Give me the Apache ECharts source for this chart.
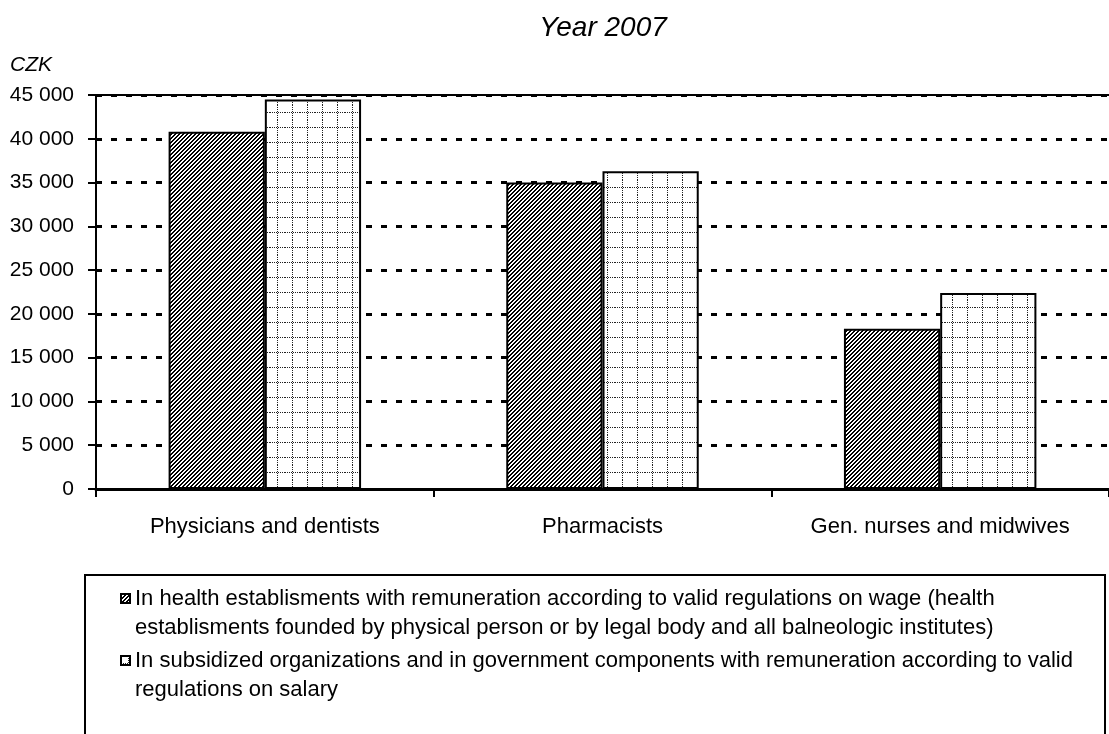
<!DOCTYPE html>
<html>
<head>
<meta charset="utf-8">
<script src="https://cdn.jsdelivr.net/npm/echarts@6/dist/echarts.min.js"></script>
<style>
html,body{margin:0;padding:0;background:#fff;}
#chart{width:1109px;height:734px;}
</style>
</head>
<body>
<div id="chart"></div>
<script>
// ---- data ----
const categories = ['Physicians and dentists', 'Pharmacists', 'Gen. nurses and midwives'];
const seriesNames = [
  'In health establisments with remuneration according to valid regulations on wage (health\nestablisments founded by physical person or by legal body and all balneologic institutes)',
  'In subsidized organizations and in government components with remuneration according to valid\nregulations on salary'
];
const wageValues = [40800, 35000, 18300];
const salaryValues = [44500, 36300, 22400];
const yTicks = [0, 5000, 10000, 15000, 20000, 25000, 30000, 35000, 40000, 45000];
const titleText = 'Year 2007';
const unitText = 'CZK';

// ---- patterns ----
function hatchPattern() {
  const c = document.createElement('canvas');
  c.width = 4; c.height = 4;
  const ctx = c.getContext('2d');
  const img = ctx.createImageData(4, 4);
  for (let y = 0; y < 4; y++) for (let x = 0; x < 4; x++) {
    const i = (y * 4 + x) * 4;
    const dark = ((x + y) % 4) < 2;
    const v = dark ? 0 : 255;
    img.data[i] = v; img.data[i+1] = v; img.data[i+2] = v; img.data[i+3] = 255;
  }
  ctx.putImageData(img, 0, 0);
  return c;
}
function gridPattern() {
  const n = 15;
  const c = document.createElement('canvas');
  c.width = n; c.height = n;
  const ctx = c.getContext('2d');
  ctx.fillStyle = '#fff';
  ctx.fillRect(0, 0, n, n);
  ctx.fillStyle = '#222';
  for (let i = 0; i < n; i += 2) {
    ctx.fillRect(i, 7, 1, 1);
    ctx.fillRect(7, i, 1, 1);
  }
  return c;
}

const FONT = 'Liberation Sans';
const chart = echarts.init(document.getElementById('chart'), null, {renderer: 'canvas'});
const fmt = v => String(v).replace(/\B(?=(\d{3})+(?!\d))/g, ' ');
// legend icon: 9x9 square sitting at the top of a tall box (aligns with first text line)
const legendIcon = 'path://M0,0L9,0L9,9L0,9Z M0,38L0,38';

chart.setOption({
  backgroundColor: '#fff',
  animation: false,
  title: [
    {text: titleText, left: 598, top: 9, textAlign: 'center',
     textStyle: {fontFamily: FONT, fontStyle: 'italic', fontWeight: 'normal', fontSize: 28, color: '#000'}},
    {text: unitText, left: 5, top: 50,
     textStyle: {fontFamily: FONT, fontStyle: 'italic', fontWeight: 'normal', fontSize: 21, color: '#000'}}
  ],
  grid: {left: 96, right: -13, top: 95, bottom: 245, containLabel: false},
  legend: {
    orient: 'vertical', left: 120, top: 584, padding: 0,
    itemWidth: 9, itemHeight: 38, itemGap: 4,
    icon: legendIcon,
    textStyle: {fontFamily: FONT, fontSize: 22, color: '#000', lineHeight: 29},
    data: seriesNames
  },
  xAxis: [
    {type: 'category', data: categories, position: 'bottom',
     axisLine: {lineStyle: {color: '#000', width: 3}},
     axisTick: {show: true, length: 8, lineStyle: {color: '#000', width: 2}},
     axisLabel: {fontFamily: FONT, fontSize: 22, color: '#000', margin: 27},
     splitLine: {show: false}},
    {type: 'category', data: categories, position: 'top',
     axisLine: {show: true, lineStyle: {color: '#000', width: 2}},
     axisTick: {show: false}, axisLabel: {show: false}}
  ],
  yAxis: {
    type: 'value', min: yTicks[0], max: yTicks[yTicks.length - 1], interval: yTicks[1] - yTicks[0],
    axisLine: {show: true, lineStyle: {color: '#000', width: 2}},
    axisTick: {show: true, length: 8, lineStyle: {color: '#000', width: 2}},
    axisLabel: {fontFamily: FONT, fontSize: 21, color: '#000', margin: 22, formatter: fmt},
    splitLine: {show: true, lineStyle: {color: '#000', width: 3, type: [6, 9]}}
  },
  graphic: [
    {type: 'rect', shape: {x: 85, y: 575, width: 1020, height: 200},
     style: {fill: 'none', stroke: '#000', lineWidth: 2}, z: 100, silent: true}
  ],
  series: [
    {name: seriesNames[0], type: 'bar', data: wageValues, barGap: '0%', barCategoryGap: '43%',
     itemStyle: {color: {image: hatchPattern(), repeat: 'repeat'}, borderColor: '#000', borderWidth: 2}},
    {name: seriesNames[1], type: 'bar', data: salaryValues,
     itemStyle: {color: {image: gridPattern(), repeat: 'repeat'}, borderColor: '#000', borderWidth: 2}}
  ]
});
</script>
</body>
</html>
